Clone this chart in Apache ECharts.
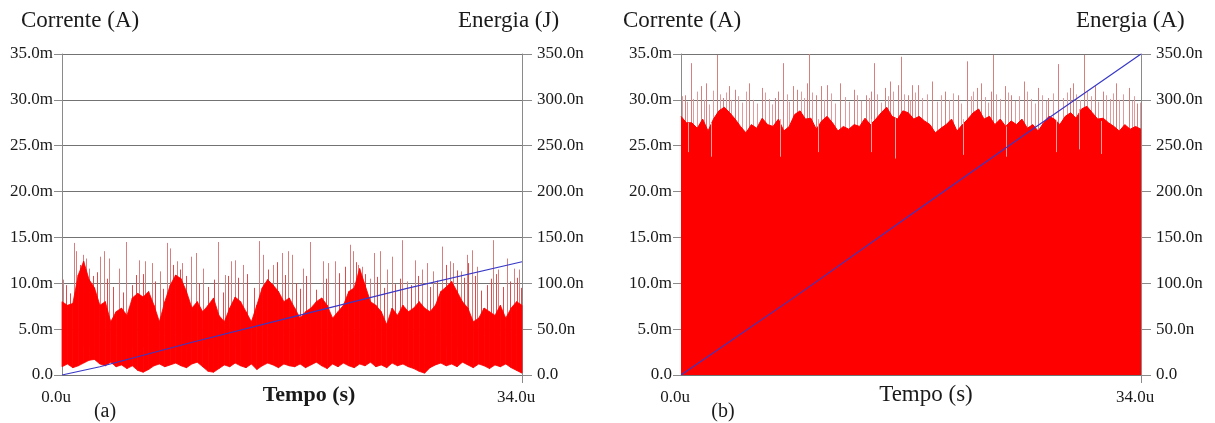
<!DOCTYPE html>
<html>
<head>
<meta charset="utf-8">
<title>Corrente e Energia</title>
<script src="https://cdn.jsdelivr.net/npm/echarts@6/dist/echarts.min.js"></script>
<style>
  html, body { margin: 0; padding: 0; background: #fff; }
  #chart { width: 1215px; height: 423px; }
</style>
</head>
<body>
<div id="chart"></div>
<script>
// time grid of the current envelopes (us)
const sampleStep = 0.4;

// (a) current envelope, mA
const hiA = [8.0,7.6,7.8,10.9,12.4,10.4,9.5,7.6,8.0,5.8,
  6.9,7.3,6.5,8.4,8.9,8.5,9.1,7.6,5.8,8.0,
  9.8,10.9,10.5,9.1,7.3,8.0,6.9,7.6,8.4,6.5,
  5.8,7.3,8.5,8.0,6.9,5.8,7.6,9.5,10.4,9.8,
  9.1,8.0,8.4,7.3,6.2,6.9,7.3,8.0,8.4,7.6,
  6.2,6.9,7.6,9.1,9.5,11.6,9.8,8.0,7.6,6.9,
  5.5,7.3,6.5,7.6,6.9,7.3,8.0,7.3,6.9,7.6,
  9.1,9.6,10.2,9.1,8.0,7.3,5.8,6.2,7.3,6.9,
  6.5,7.6,6.2,7.3,8.0,7.6];
const loA = [0.9,1.2,0.8,1.0,1.3,1.6,1.7,1.2,1.0,1.4,
  0.9,1.1,0.7,1.0,0.5,0.3,0.6,1.0,1.2,0.9,
  1.1,1.3,1.0,0.8,1.2,1.4,0.9,0.4,0.3,0.7,
  1.1,0.9,1.3,1.0,0.8,1.2,0.6,1.0,1.3,1.1,
  0.8,1.2,1.0,0.9,1.2,0.8,1.1,1.4,1.0,0.7,
  1.2,0.9,1.3,1.0,0.8,1.2,1.0,1.4,0.9,1.1,
  0.8,1.3,1.0,1.2,0.9,0.7,0.4,0.2,0.8,1.1,
  1.3,1.0,1.2,0.9,1.4,1.1,0.8,1.2,1.0,0.7,
  1.1,0.9,1.2,0.8,0.5,0.2];
// (a) tall current peaks [t, mA]
const spikesA = [[0.05,10.4],[0.89,14.4],[1.03,13.5],[1.58,13.1],[1.77,12.7],[2.02,11.6],
  [2.81,12.9],[3.13,13.5],[3.5,12.7],[4.24,11.6],[4.73,14.5],[5.72,12.5],[6.14,12.4],
  [6.63,12.2],[7.24,11.3],[7.74,14.4],[7.98,13.8],[8.48,12.4],[8.85,12.2],[9.51,12.9],
  [9.88,13.3],[10.45,11.6],[11.55,14.5],[12.04,10.9],[12.47,12.4],[12.79,12.5],[13.4,12.0],
  [14.56,14.6],[14.88,13.1],[15.62,12.0],[16.24,13.3],[16.73,13.5],[17.0,13.1],[17.79,11.6],
  [18.33,14.5],[19.31,12.4],[19.68,12.2],[20.17,12.4],[21.29,14.2],[21.48,13.5],[21.9,12.0],
  [22.14,11.8],[22.76,10.5],[23.08,13.3],[23.5,13.5],[23.99,11.5],[24.36,12.9],[25.15,14.7],
  [25.47,10.2],[26.09,12.5],[26.58,11.5],[26.95,12.2],[27.44,11.3],[28.11,14.0],[28.68,12.4],
  [28.92,12.2],[29.46,11.3],[29.91,13.1],[30.28,13.6],[30.65,11.8],[31.88,14.7],[32.25,11.5],
  [32.86,12.7],[33.41,11.6],[33.75,11.5]];
// (a) shorter current peaks [t, mA]
const fuzzA = [[0.3,9.8],[0.6,8.9],[1.3,12.0],[2.3,10.8],[2.6,11.2],[3.3,10.5],[3.8,9.6],
  [4.5,9.0],[5.2,9.8],[5.5,10.9],[6.0,11.0],[6.9,10.2],[7.5,9.4],[8.2,12.0],[8.7,11.5],
  [9.2,10.8],[10.1,10.0],[10.8,9.6],[11.2,10.4],[11.9,9.0],[12.3,10.8],[13.0,10.6],[13.7,11.0],
  [14.2,9.5],[15.2,11.5],[15.9,12.3],[16.5,10.9],[17.3,10.0],[17.6,9.4],[18.0,10.8],[18.8,9.3],
  [19.5,10.5],[20.5,11.1],[20.9,11.8],[21.7,12.3],[22.4,11.0],[23.3,10.7],[23.8,9.5],[24.6,9.9],
  [25.0,10.5],[25.8,9.8],[26.3,10.8],[27.2,9.6],[27.7,10.3],[28.4,12.0],[29.2,11.4],[29.7,10.6],
  [30.0,12.2],[30.5,10.8],[31.0,9.2],[31.4,9.8],[31.7,10.5],[32.1,11.0],[32.6,9.6],[33.1,10.2],
  [33.6,10.6],[33.9,9.5]];
// (a) energy, nJ
const energyTimeA = [0, 2.8, 9.7, 16.85, 25.5, 34];
const energyA = [0, 9, 36, 62.5, 94.5, 123.5];

// (b) current envelope, mA
const hiB = [28.2,27.5,27.5,26.9,27.9,26.6,27.9,28.8,29.2,28.6,
  27.9,27.1,26.4,27.3,26.9,28.0,27.3,27.1,27.9,26.6,
  27.1,28.4,28.8,27.9,28.0,26.8,27.7,28.2,27.5,26.6,
  27.1,26.8,27.3,27.1,28.0,27.3,27.9,28.6,29.2,28.2,
  27.9,28.8,28.6,27.9,28.2,27.7,27.3,26.4,26.9,27.3,
  27.9,26.6,27.3,27.9,28.6,29.0,27.9,28.2,27.3,27.9,
  27.1,27.7,27.3,27.9,26.9,27.3,26.6,27.5,28.2,27.9,
  27.3,28.2,28.6,28.0,29.0,29.3,28.6,27.9,28.0,27.5,
  27.1,26.6,27.3,26.8,27.1,26.8];
// (b) tall current peaks [t, mA]
const spikesB = [[0.32,30.5],[0.71,34.0],[1.5,31.5],[1.87,31.8],[2.66,34.9],[3.1,30.2],
  [3.52,31.5],[3.96,31.1],[5.0,31.8],[5.99,31.3],[6.92,30.2],[7.17,30.9],[7.51,34.0],
  [8.28,31.5],[8.6,31.1],[9.31,31.8],[9.44,35.0],[10.0,30.5],[10.37,31.5],[10.81,31.6],
  [11.77,31.8],[12.78,31.1],[13.69,30.5],[14.06,30.9],[14.26,34.0],[15.1,31.3],[15.42,32.0],
  [16.03,31.6],[16.24,34.7],[16.78,30.5],[17.1,31.6],[17.5,31.6],[18.55,32.0],[19.48,30.9],
  [20.46,30.5],[21.12,34.2],[21.9,31.3],[22.15,31.8],[22.89,30.9],[23.04,34.9],[23.93,31.5],
  [24.42,30.5],[25.35,32.0],[26.39,31.3],[27.13,30.2],[27.87,33.9],[28.73,31.3],[28.98,31.8],
  [29.79,34.9],[30.57,31.5],[31.19,30.9],[32.17,31.8],[33.08,31.3],[33.72,29.6]];
// (b) shorter current peaks [t, mA]
const fuzzB = [[0.1,30.4],[0.45,29.8],[0.9,30.1],[1.2,30.9],[1.7,30.0],[2.1,29.5],[2.4,31.0],
  [2.9,30.6],[3.3,30.8],[3.7,30.0],[4.2,30.4],[4.5,29.7],[4.8,30.9],[5.3,30.0],[5.6,29.6],
  [6.2,30.8],[6.5,30.1],[6.7,29.5],[7.8,30.6],[8.0,29.8],[8.9,30.9],[9.1,30.2],[9.7,30.8],
  [10.6,30.0],[11.1,30.7],[11.4,29.6],[12.1,30.3],[12.4,29.8],[13.0,30.5],[13.3,29.9],[13.9,30.2],
  [14.5,30.6],[14.8,29.7],[15.3,30.4],[15.7,30.9],[16.5,30.6],[16.9,29.9],[17.3,30.8],[17.8,30.2],
  [18.2,30.6],[18.9,29.8],[19.2,30.5],[19.8,30.0],[20.1,30.7],[20.7,29.6],[21.4,30.4],[21.6,30.9],
  [22.5,30.3],[22.7,29.7],[23.3,30.6],[23.6,30.1],[24.2,30.8],[24.7,29.9],[25.0,30.4],[25.6,30.9],
  [25.9,30.1],[26.2,29.6],[26.7,30.5],[27.0,29.9],[27.5,30.7],[28.2,30.2],[28.5,30.8],[29.2,30.6],
  [29.5,30.0],[30.0,30.9],[30.3,30.4],[30.8,29.8],[31.4,30.5],[31.7,30.1],[31.9,30.7],[32.4,30.0],
  [32.7,30.6],[33.3,29.9],[33.5,30.4],[33.9,29.7]];
// (b) current dips [t, low mA, high mA]
const dipsB = [[0.52,24.3,27.5],[2.24,23.8,27.5],[7.29,23.8,27.9],[10.13,24.3,27.9],
  [14.07,24.3,27.9],[15.79,23.6,28.0],[20.84,24.0,27.9],[24.0,23.8,27.1],[27.74,24.3,27.7],
  [29.39,24.6,29.0],[31.02,24.1,27.7]];
// (b) energy, nJ
const energyTimeB = [0, 8.5, 17, 25.5, 34];
const energyB = [0, 86, 175, 263, 350];

const serif = 'Liberation Serif';
const textColor = '#1a1a1a';
const gridColor = '#737373';
const red = '#ff0000';

function sampleTime(i) {
  return +(i * sampleStep).toFixed(2);
}

// one quadrilateral per step of the envelope: [t0, lo0, hi0, t1, lo1, hi1]
function bandSegments(hi, lo) {
  const out = [];
  for (let i = 0; i < hi.length - 1; i++) {
    out.push([sampleTime(i), lo[i], hi[i], sampleTime(i + 1), lo[i + 1], hi[i + 1]]);
  }
  return out;
}

function renderBand(params, api) {
  const a = api.coord([api.value(0), api.value(1)]);
  const b = api.coord([api.value(0), api.value(2)]);
  const c = api.coord([api.value(3), api.value(5)]);
  const d = api.coord([api.value(3), api.value(4)]);
  return {
    type: 'polygon',
    shape: { points: [a, b, c, d] },
    style: { fill: red, stroke: red, lineWidth: 0.8 }
  };
}

function vline(color) {
  return function (params, api) {
    const p0 = api.coord([api.value(0), api.value(2)]);
    const p1 = api.coord([api.value(0), api.value(1)]);
    const x = Math.round(p0[0]) + 0.5;
    return {
      type: 'line',
      shape: { x1: x, y1: p0[1], x2: x, y2: p1[1] },
      style: { stroke: color, lineWidth: 1 }
    };
  };
}

// vertical peak lines from `from` (mA) up to each value
function peaks(name, list, xi, yi, color, z, from) {
  return {
    name: name, type: 'custom', xAxisIndex: xi, yAxisIndex: yi, z: z,
    renderItem: vline(color),
    encode: { x: 0, y: [1, 2] },
    data: list.map(s => [s[0], s[1], s.length > 2 ? s[2] : from])
  };
}

function xAxisFor(idx) {
  return {
    type: 'value', gridIndex: idx, min: 0, max: 34, interval: 34,
    axisLine: { show: false },
    axisTick: { show: true, customValues: [34], length: 8, lineStyle: { color: '#8a8a8a' } },
    splitLine: { show: false },
    axisLabel: {
      margin: 14, fontFamily: serif, fontSize: 17, color: textColor,
      padding: [0, 12, 0, 0],
      formatter: v => v.toFixed(1) + 'u'
    }
  };
}

function leftAxis(idx) {
  return {
    type: 'value', gridIndex: idx, position: 'left', min: 0, max: 35, interval: 5,
    axisLine: { show: true, lineStyle: { color: '#8a8a8a' } },
    axisTick: { show: true, length: 8, lineStyle: { color: '#8a8a8a' } },
    splitLine: { show: true, lineStyle: { color: gridColor, width: 1 } },
    axisLabel: {
      margin: 9, fontFamily: serif, fontSize: 17, color: textColor,
      formatter: v => v === 0 ? '0.0' : v.toFixed(1) + 'm'
    }
  };
}

function rightAxis(idx) {
  return {
    type: 'value', gridIndex: idx, position: 'right', min: 0, max: 350, interval: 50,
    axisLine: { show: true, lineStyle: { color: '#8a8a8a' } },
    axisTick: { show: true, length: 10, lineStyle: { color: '#8a8a8a' } },
    splitLine: { show: false },
    axisLabel: {
      margin: 15, fontFamily: serif, fontSize: 17, color: textColor,
      formatter: v => v === 0 ? '0.0' : v.toFixed(1) + 'n'
    }
  };
}

function label(text, x, y, size, align, weight) {
  return {
    type: 'text', x: x, y: y,
    style: {
      text: text, fill: textColor, fontFamily: serif, fontSize: size,
      fontWeight: weight || 'normal', align: align, verticalAlign: 'middle'
    }
  };
}

const options = {
  animation: false,
  backgroundColor: '#fff',
  grid: [
    { left: 62, top: 54, width: 460, height: 321 },
    { left: 681, top: 54, width: 460, height: 321 }
  ],
  xAxis: [xAxisFor(0), xAxisFor(1)],
  yAxis: [leftAxis(0), rightAxis(0), leftAxis(1), rightAxis(1)],
  graphic: [
    label('Corrente (A)', 21, 21, 23, 'left'),
    label('Energia (J)', 458, 21, 23, 'left'),
    label('Corrente (A)', 623, 21, 23, 'left'),
    label('Energia (A)', 1076, 21, 23, 'left'),
    label('Tempo (s)', 309, 395, 22, 'center', 'bold'),
    label('Tempo (s)', 926, 395, 23, 'center'),
    label('(a)', 105, 412, 20, 'center'),
    label('(b)', 723, 412, 20, 'center')
  ],
  series: [
    // (a)
    peaks('picosA', spikesA, 0, 0, '#d67f7f', 1, 3),
    peaks('picosMenoresA', fuzzA, 0, 0, '#e04a4a', 1, 3),
    {
      name: 'correnteA', type: 'custom', xAxisIndex: 0, yAxisIndex: 0, z: 2,
      renderItem: renderBand,
      encode: { x: [0, 3], y: [1, 2, 4, 5] },
      data: bandSegments(hiA, loA)
    },
    {
      name: 'energiaA', type: 'line', xAxisIndex: 0, yAxisIndex: 1, z: 5,
      symbol: 'none', lineStyle: { color: '#3838c8', width: 1.2 },
      data: energyTimeA.map((t, i) => [t, energyA[i]])
    },
    // (b)
    peaks('picosB', spikesB, 1, 2, '#d67f7f', 1, 20),
    peaks('picosMenoresB', fuzzB, 1, 2, '#e29a9a', 1, 20),
    {
      name: 'correnteB', type: 'line', xAxisIndex: 1, yAxisIndex: 2, z: 2,
      symbol: 'none', lineStyle: { color: red, width: 1 },
      areaStyle: { color: red, opacity: 1 },
      data: hiB.map((v, i) => [sampleTime(i), v])
    },
    peaks('quedasB', dipsB.map(d => [d[0], d[2], d[1]]), 1, 2, '#eaa3a3', 3, 20),
    {
      name: 'energiaB', type: 'line', xAxisIndex: 1, yAxisIndex: 3, z: 5,
      symbol: 'none', lineStyle: { color: '#3838c8', width: 1.2 },
      data: energyTimeB.map((t, i) => [t, energyB[i]])
    }
  ]
};

const chart = echarts.init(document.getElementById('chart'));
chart.setOption(options);
window.addEventListener('resize', () => {
  chart.resize();
});
</script>
</body>
</html>
